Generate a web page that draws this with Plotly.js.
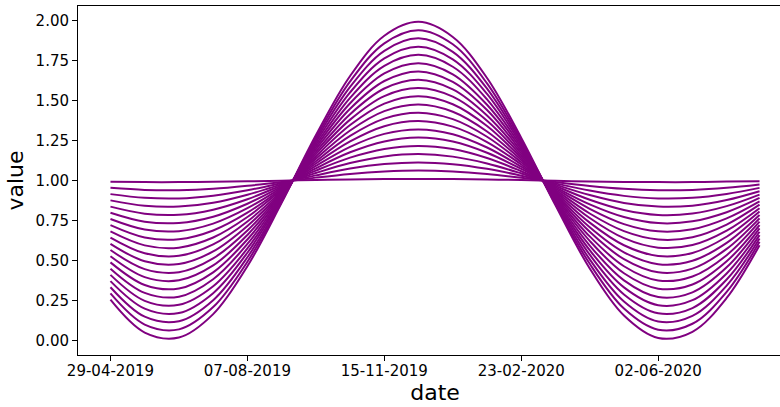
<!DOCTYPE html>
<html>
<head>
<meta charset="utf-8">
<script src="https://cdn.plot.ly/plotly-3.0.1.min.js"></script>
<style>
html, body { margin: 0; padding: 0; overflow: hidden; background: #fff; }
#chart { width: 796px; height: 407px; }
</style>
</head>
<body>
<div id="chart"></div>
<script>
// Sample dates along the x axis
const dates = ["2019-04-29","2019-05-24","2019-06-18","2019-07-13","2019-08-07","2019-09-01","2019-09-26","2019-10-21","2019-11-15","2019-12-10","2020-01-04","2020-01-29","2020-02-23","2020-03-19","2020-04-13","2020-05-08","2020-06-02","2020-06-27","2020-07-22","2020-08-15"];

// Values of each curve
const curve01 = [0.992,0.990,0.990,0.992,0.995,0.999,1.003,1.007,1.009,1.010,1.009,1.006,1.003,0.998,0.994,0.991,0.990,0.990,0.993,0.996];
const curve02 = [0.954,0.941,0.939,0.948,0.967,0.991,1.018,1.041,1.056,1.062,1.056,1.040,1.017,0.990,0.966,0.948,0.939,0.941,0.954,0.975];
const curve03 = [0.915,0.892,0.888,0.905,0.939,0.984,1.032,1.075,1.103,1.113,1.102,1.073,1.030,0.982,0.937,0.904,0.888,0.892,0.916,0.954];
const curve04 = [0.876,0.842,0.837,0.861,0.911,0.977,1.047,1.109,1.150,1.165,1.149,1.106,1.044,0.974,0.909,0.860,0.837,0.843,0.878,0.933];
const curve05 = [0.837,0.793,0.786,0.818,0.883,0.970,1.062,1.143,1.197,1.216,1.196,1.140,1.058,0.966,0.880,0.816,0.785,0.794,0.840,0.912];
const curve06 = [0.799,0.743,0.735,0.774,0.855,0.962,1.076,1.176,1.244,1.268,1.243,1.173,1.072,0.958,0.851,0.772,0.734,0.745,0.802,0.891];
const curve07 = [0.760,0.694,0.684,0.731,0.827,0.955,1.091,1.210,1.291,1.319,1.289,1.206,1.086,0.950,0.823,0.728,0.683,0.696,0.764,0.870];
const curve08 = [0.721,0.644,0.633,0.688,0.799,0.948,1.106,1.244,1.339,1.371,1.336,1.240,1.100,0.942,0.794,0.684,0.632,0.646,0.725,0.849];
const curve09 = [0.682,0.595,0.581,0.644,0.772,0.941,1.120,1.278,1.386,1.423,1.383,1.273,1.114,0.934,0.766,0.640,0.581,0.597,0.687,0.827];
const curve10 = [0.644,0.546,0.530,0.601,0.744,0.933,1.135,1.312,1.433,1.474,1.429,1.306,1.128,0.926,0.737,0.596,0.529,0.548,0.649,0.806];
const curve11 = [0.605,0.496,0.479,0.557,0.716,0.926,1.150,1.346,1.480,1.526,1.476,1.340,1.141,0.917,0.708,0.552,0.478,0.499,0.611,0.785];
const curve12 = [0.566,0.447,0.428,0.514,0.688,0.919,1.165,1.380,1.527,1.577,1.523,1.373,1.155,0.909,0.680,0.509,0.427,0.450,0.573,0.764];
const curve13 = [0.527,0.397,0.377,0.470,0.660,0.912,1.179,1.414,1.574,1.629,1.569,1.406,1.169,0.901,0.651,0.465,0.376,0.401,0.534,0.743];
const curve14 = [0.489,0.348,0.326,0.427,0.632,0.904,1.194,1.448,1.621,1.681,1.616,1.440,1.183,0.893,0.623,0.421,0.325,0.351,0.496,0.722];
const curve15 = [0.450,0.299,0.275,0.384,0.604,0.897,1.209,1.482,1.668,1.732,1.663,1.473,1.197,0.885,0.594,0.377,0.273,0.302,0.458,0.701];
const curve16 = [0.411,0.249,0.224,0.340,0.576,0.890,1.223,1.516,1.715,1.784,1.710,1.506,1.211,0.877,0.565,0.333,0.222,0.253,0.420,0.680];
const curve17 = [0.372,0.200,0.173,0.297,0.549,0.883,1.238,1.550,1.762,1.835,1.756,1.540,1.225,0.869,0.537,0.289,0.171,0.204,0.382,0.659];
const curve18 = [0.334,0.150,0.122,0.253,0.521,0.875,1.253,1.584,1.809,1.887,1.803,1.573,1.238,0.861,0.508,0.245,0.120,0.155,0.344,0.638];
const curve19 = [0.295,0.101,0.071,0.210,0.493,0.868,1.267,1.618,1.856,1.938,1.850,1.606,1.252,0.853,0.480,0.201,0.069,0.106,0.305,0.617];
const curve20 = [0.256,0.051,0.020,0.166,0.465,0.861,1.282,1.652,1.903,1.990,1.896,1.640,1.266,0.845,0.451,0.157,0.017,0.056,0.267,0.596];

// Tick labels
const xTickDates = ["2019-04-29","2019-08-07","2019-11-15","2020-02-23","2020-06-02"];
const xTickLabels = ["29-04-2019","07-08-2019","15-11-2019","23-02-2020","02-06-2020"];
const yTicks = [0,0.25,0.5,0.75,1,1.25,1.5,1.75,2];

const allCurves = [curve01,curve02,curve03,curve04,curve05,curve06,curve07,curve08,curve09,curve10,
                   curve11,curve12,curve13,curve14,curve15,curve16,curve17,curve18,curve19,curve20];

const traces = allCurves.map(function (vals) {
  return {
    x: dates, y: vals, type: "scatter", mode: "lines",
    line: { color: "#800080", width: 2, shape: "spline", smoothing: 1 },
    showlegend: false, hoverinfo: "skip"
  };
});

const font = { family: "DejaVu Sans, sans-serif", color: "#000" };

const layout = {
  width: 796, height: 407,
  margin: { l: 78, r: 4, t: 6, b: 52 },
  paper_bgcolor: "#fff", plot_bgcolor: "#fff",
  showlegend: false,
  font: font,
  xaxis: {
    type: "date",
    range: ["2019-04-05 07:00", "2020-09-07 17:00"],
    tickvals: xTickDates, ticktext: xTickLabels,
    tickfont: { family: font.family, size: 15, color: "#000" },
    ticklabelstandoff: -3,
    showgrid: false, zeroline: false,
    showline: true, linecolor: "#000", linewidth: 1, mirror: true,
    ticks: "outside", ticklen: 5, tickwidth: 1, tickcolor: "#000",
    title: { text: "date", font: { family: font.family, size: 22, color: "#000" }, standoff: 2 },
    automargin: false
  },
  yaxis: {
    range: [-0.089, 2.089],
    tickvals: yTicks, tickformat: ".2f",
    tickfont: { family: font.family, size: 15, color: "#000" },
    showgrid: false, zeroline: false,
    showline: true, linecolor: "#000", linewidth: 1, mirror: true,
    ticks: "outside", ticklen: 5, tickwidth: 1, tickcolor: "#000",
    title: { text: "value", font: { family: font.family, size: 22, color: "#000" }, standoff: 5 },
    automargin: false
  }
};

Plotly.newPlot("chart", traces, layout, { displayModeBar: false, staticPlot: true });
</script>
</body>
</html>
